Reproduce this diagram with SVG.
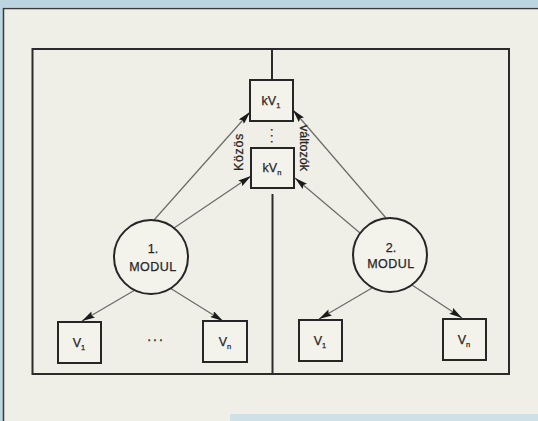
<svg xmlns="http://www.w3.org/2000/svg" width="538" height="421" viewBox="0 0 538 421">
<defs>
<style>
.frame{fill:none;stroke:#2b2b2b;stroke-width:2}
.box{fill:#f3f2eb;stroke:#262626;stroke-width:2}
.circ{fill:#f3f2eb;stroke:#262626;stroke-width:2}
.lbl{font-family:"Liberation Sans",Arial,sans-serif;font-size:12.5px;fill:#262626;stroke:#262626;stroke-width:0.25;text-anchor:middle}
.sub{font-size:7.5px}
.conn line{stroke:#6a6a6a;stroke-width:1.2;marker-end:url(#ah)}
</style>
<marker id="ah" viewBox="0 0 13 7" refX="13" refY="3.5" markerWidth="13" markerHeight="7" orient="auto" markerUnits="userSpaceOnUse">
<path d="M0,0 L13,3.5 L0,7 L2,3.5 z" fill="#1a1a1a"/>
</marker>
</defs>
<rect x="0" y="0" width="538" height="421" fill="#f0efe7"/>
<rect x="0" y="0" width="538" height="7" fill="#bcd5e0"/>
<rect x="0" y="0" width="3" height="421" fill="#bcd5e0"/>
<rect x="230" y="414" width="308" height="7" fill="#cfe0e6"/>
<path d="M3.5,421 V8.5 H538" fill="none" stroke="#3a3a3a" stroke-width="1.5"/>
<rect x="32.5" y="49" width="476.5" height="325" fill="#f3f2eb" class="frame"/>
<g id="divider">
<line x1="272" y1="49" x2="272" y2="80" stroke="#2b2b2b" stroke-width="2"/>
<line x1="272.5" y1="194" x2="272.5" y2="374" stroke="#2b2b2b" stroke-width="2"/>
</g>
<g id="connectors" class="conn">
<line x1="154" y1="220" x2="250" y2="112"/>
<line x1="174" y1="228" x2="251" y2="176"/>
<line x1="386" y1="218" x2="293" y2="110"/>
<line x1="360" y1="233" x2="295" y2="178"/>
<line x1="135" y1="290" x2="82" y2="321"/>
<line x1="170" y1="288" x2="223" y2="321"/>
<line x1="372" y1="288" x2="319" y2="319"/>
<line x1="412" y1="285" x2="462" y2="318"/>
</g>
<g id="kV1">
<rect class="box" x="250" y="80" width="43" height="41"/>
<text class="lbl" x="271" y="105">kV<tspan class="sub" dy="3">1</tspan></text>
</g>
<g id="kVn">
<rect class="box" x="251" y="148" width="43" height="40"/>
<text class="lbl" x="272" y="172">kV<tspan class="sub" dy="3">n</tspan></text>
</g>
<g id="kdots">
<text class="lbl" transform="translate(271,137) rotate(90)" style="letter-spacing:2.5px">...</text>
</g>
<g id="label-kozos">
<text class="lbl" transform="translate(243,152) rotate(-90)" style="letter-spacing:0.6px">Közös</text>
</g>
<g id="label-valtozok">
<text class="lbl" transform="translate(300,148) rotate(90)">változók</text>
</g>
<g id="modul1">
<circle class="circ" cx="151" cy="257" r="37"/>
<text class="lbl" x="153" y="253">1.</text>
<text class="lbl" x="153" y="271" style="letter-spacing:0.5px">MODUL</text>
</g>
<g id="modul2">
<circle class="circ" cx="390" cy="255" r="37"/>
<text class="lbl" x="391" y="252">2.</text>
<text class="lbl" x="391" y="268" style="letter-spacing:0.5px">MODUL</text>
</g>
<g id="v1-left">
<rect class="box" x="58" y="322" width="43" height="41"/>
<text class="lbl" x="79" y="347">V<tspan class="sub" dy="3">1</tspan></text>
</g>
<g id="dots-left">
<text class="lbl" x="156" y="341" style="font-size:14px;letter-spacing:2px">...</text>
</g>
<g id="vn-left">
<rect class="box" x="203" y="321" width="44" height="41"/>
<text class="lbl" x="225" y="346">V<tspan class="sub" dy="3">n</tspan></text>
</g>
<g id="v1-right">
<rect class="box" x="299" y="320" width="43" height="41"/>
<text class="lbl" x="320" y="345">V<tspan class="sub" dy="3">1</tspan></text>
</g>
<g id="vn-right">
<rect class="box" x="443" y="319" width="43" height="41"/>
<text class="lbl" x="464" y="344">V<tspan class="sub" dy="3">n</tspan></text>
</g>
</svg>
